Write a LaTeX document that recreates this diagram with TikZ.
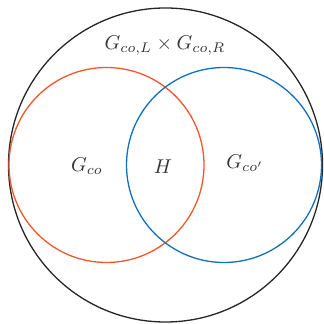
\documentclass[tikz,border=0pt]{standalone}
\usepackage{xcolor}
\definecolor{corange}{HTML}{F0562A}
\definecolor{cblue}{HTML}{1070BE}
\definecolor{ctext}{HTML}{333333}
\begin{document}
\begin{tikzpicture}[x=0.5pt,y=-0.5pt,
  ring/.style={line width=0.65pt},
  lbl/.style={text=ctext, inner sep=0pt, font=\fontsize{10}{12}\selectfont}]
\useasboundingbox (0,0) rectangle (323,324);
\draw[ring, color=black!85] (165.5,165) circle[radius=157];
\draw[ring, color=corange] (106.5,165) circle[radius=97.5];
\draw[ring, color=cblue] (224,165) circle[radius=97.5];
\node[lbl] (top) at (165,46) {$G_{co,L}\times G_{co,R}$};
\node[lbl] (gco) at (87,166) {$G_{co}$};
\node[lbl] (h) at (163,167) {$H$};
\node[lbl] (gcop) at (245,163) {$G_{co'}$};
\end{tikzpicture}
\end{document}
